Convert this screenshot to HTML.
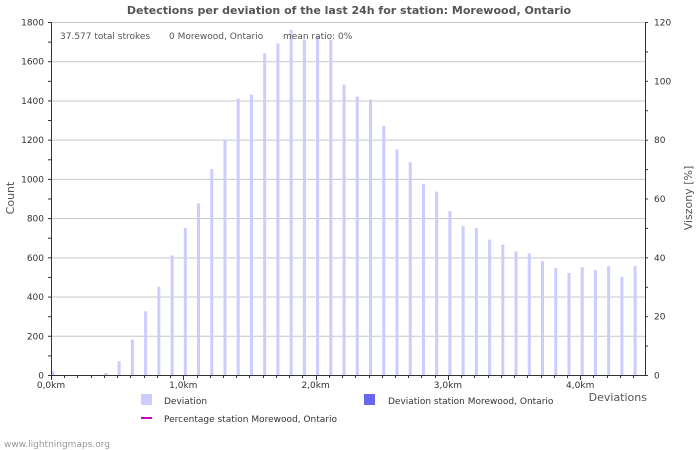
<!DOCTYPE html>
<html><head><style>body{margin:0;background:#fff}svg{display:block;font-family:"DejaVu Sans","Liberation Sans",sans-serif}</style></head><body>
<svg width="700" height="450" xmlns="http://www.w3.org/2000/svg">
<rect width="700" height="450" fill="#fff"/>
<text x="349" y="14" text-anchor="middle" font-size="11" font-weight="bold" fill="#555">Detections per deviation of the last 24h for station: Morewood, Ontario</text>
<g id="grid" stroke="#c8c8c8" stroke-width="1"></g>
<g id="bars" fill="#ccccff"></g>
<g id="axes" stroke="#333" stroke-width="1"></g>
<g id="lab" font-size="9" fill="#333"></g>
<text x="60" y="39" font-size="9" fill="#555">37.577 total strokes</text>
<text x="169" y="39" font-size="9" fill="#555">0 Morewood, Ontario</text>
<text x="283" y="39" font-size="9" fill="#555">mean ratio: 0%</text>
<text x="14" y="198" font-size="11" fill="#555" text-anchor="middle" transform="rotate(-90 14 198)">Count</text>
<text x="692" y="198" font-size="11" fill="#555" text-anchor="middle" transform="rotate(-90 692 198)">Viszony [%]</text>
<text x="647" y="401" font-size="11" fill="#555" text-anchor="end">Deviations</text>
<rect x="141" y="394" width="11" height="11" fill="#ccccff"/>
<text x="164" y="404" font-size="9" fill="#333">Deviation</text>
<rect x="364" y="394" width="11" height="11" fill="#6666ee"/>
<text x="388" y="404" font-size="9" fill="#333">Deviation station Morewood, Ontario</text>
<line x1="141" y1="418" x2="152" y2="418" stroke="#cc00cc" stroke-width="2"/>
<text x="164" y="422" font-size="9" fill="#333">Percentage station Morewood, Ontario</text>
<text x="4" y="447" font-size="9" fill="#999">www.lightningmaps.org</text>
</svg>
<script>
const ns="http://www.w3.org/2000/svg";
function el(p,t,a,txt){const e=document.createElementNS(ns,t);for(const k in a)e.setAttribute(k,a[k]);if(txt!==undefined)e.textContent=txt;document.getElementById(p).appendChild(e);}
const L=51,R=645,T=22,B=375;
const y=v=>B-v*(B-T)/1800;
for(let v=200;v<=1800;v+=200){el('grid','line',{x1:L,x2:R,y1:y(v)+.5,y2:y(v)+.5});}
const d=[20,0,0,0,10,70,180,325,450,610,750,875,1050,1200,1410,1430,1640,1690,1760,1710,1730,1710,1480,1420,1405,1270,1150,1085,975,935,835,760,750,690,665,630,620,580,545,520,550,535,555,500,555];
const sp=13.23;
d.forEach((v,i)=>{const x=51.5+i*sp;if(v>0)el('bars','rect',{x:x,y:y(v),width:3,height:B-y(v)});});
el('axes','line',{x1:L+.5,x2:L+.5,y1:T,y2:B});
el('axes','line',{x1:R+.5,x2:R+.5,y1:T,y2:B});
el('axes','line',{x1:L,x2:R,y1:B+.5,y2:B+.5});
for(let v=0;v<=1800;v+=100){const yy=y(v)+.5;el('axes','line',{x1:L-3,x2:L,y1:yy,y2:yy});if(v%200==0)el('lab','text',{x:L-7,y:yy+3,'text-anchor':'end'},v);}
for(let p=0;p<=120;p+=10){const yy=B-p*(B-T)/120+.5;el('axes','line',{x1:R,x2:R+3,y1:yy,y2:yy});if(p%20==0)el('lab','text',{x:R+9,y:yy+3},p);}
for(let i=0;i<=44;i++){const x=Math.round(51+i*sp)+.5;el('axes','line',{x1:x,x2:x,y1:B,y2:B+(i%10==0?5:3)});}
["0,0km","1,0km","2,0km","3,0km","4,0km"].forEach((t,k)=>el('lab','text',{x:51+k*10*sp,y:388,'text-anchor':'middle'},t));
</script>
</body></html>
